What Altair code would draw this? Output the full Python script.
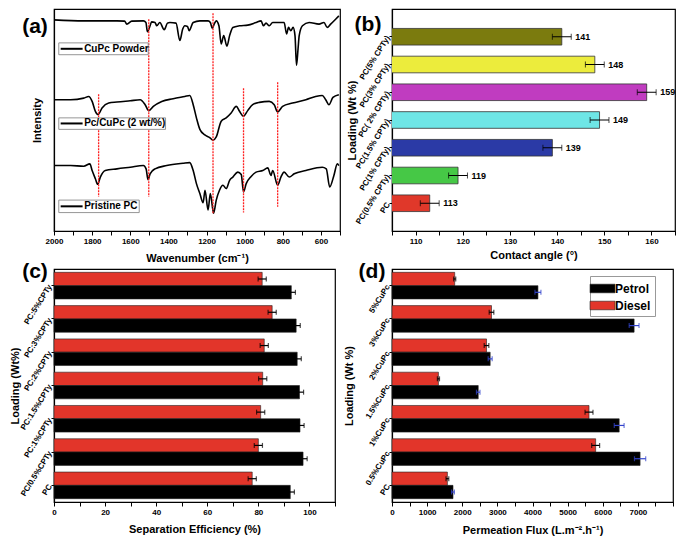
import altair as alt
import pandas as pd

FONT = "Liberation Sans"
RED = "#e2352a"
BLUE = "#3344cc"

# ---------------- (a) FTIR spectra ----------------
cupc_wn = [2000, 1844, 1670, 1630, 1618, 1592, 1531, 1518, 1510, 1496, 1488, 1470, 1461, 1445, 1422, 1405,
           1392, 1360, 1340, 1325, 1314, 1300, 1291, 1270, 1235, 1192, 1180, 1170, 1160, 1149, 1135, 1123,
           1110, 1093, 1079, 1062, 1027, 984, 940, 914, 902, 888, 871, 853, 793, 780, 770, 758, 746, 736,
           728, 720, 714, 697, 662, 610, 584, 567, 549, 523, 506]
cupc_i = [658, 655, 655, 654, 645, 654, 655, 650, 622, 640, 652, 650, 640, 650, 628, 648,
          650, 648, 595, 630, 640, 638, 625, 650, 655, 655, 650, 632, 645, 655, 640, 585,
          610, 578, 610, 635, 640, 642, 650, 655, 640, 648, 640, 650, 650, 615, 635, 625, 635, 610,
          520, 570, 610, 640, 650, 645, 650, 635, 645, 660, 670]

pccupc_wn = [2000, 1913, 1844, 1818, 1800, 1783, 1769, 1748, 1713, 1670, 1600, 1548, 1522, 1503, 1479, 1435,
             1375, 1314, 1288, 1270, 1253, 1235, 1209, 1183, 1166, 1149, 1123, 1097, 1071, 1044, 1027, 1006,
             984, 958, 923, 871, 845, 827, 801, 749, 679, 628, 593, 575, 558, 537, 506]
pccupc_i = [415, 415, 420, 425, 410, 380, 370, 390, 405, 408, 412, 415, 400, 382, 395, 410,
            418, 425, 428, 400, 360, 325, 308, 300, 292, 302, 350, 360, 375, 395, 380, 365,
            382, 400, 407, 410, 400, 378, 395, 405, 415, 425, 428, 415, 400, 422, 430]

pc_wn = [2000, 1913, 1844, 1812, 1800, 1783, 1771, 1757, 1731, 1670, 1600, 1531, 1517, 1507, 1496, 1470,
         1409, 1323, 1288, 1270, 1253, 1235, 1218, 1208, 1192, 1180, 1163, 1149, 1132, 1114, 1097, 1079,
         1062, 1036, 1018, 1006, 992, 966, 940, 905, 879, 862, 853, 827, 810, 793, 766, 740, 679, 593,
         572, 554, 532, 514, 506]
pc_i = [215, 215, 213, 220, 200, 175, 158, 180, 200, 205, 210, 215, 205, 172, 190, 205,
        215, 222, 224, 200, 160, 130, 102, 140, 80, 130, 70, 110, 140, 155, 145, 170,
        180, 195, 188, 135, 160, 182, 195, 200, 208, 185, 200, 155, 180, 195, 180, 190, 200, 210,
        205, 150, 185, 220, 215]

marker_wn = [1766, 1503, 1166, 1006, 827]
marker_top = [432, 660, 678, 450, 468]
marker_bot = [120, 120, 68, 72, 90]

leg_labels = ["CuPc Powder", "Pc/CuPc (2 wt/%)", "Pristine PC"]
leg_box_left = [1975, 1975, 1975]
leg_box_right = [1506, 1415, 1553]
leg_box_top = [588, 360, 110]
leg_box_bot = [552, 325, 72]
leg_mid = [570, 343, 91]
leg_seg_left = [1965, 1965, 1965]
leg_seg_right = [1850, 1850, 1850]
leg_text_x = [1842, 1842, 1842]

# ---------------- (b) contact angle ----------------
b_cats = ["PC(5% CPTy)", "PC(3% CPTy)", "PC( 2% CPTy)", "PC(1.5% CPTy)", "PC(1% CPTy)", "PC(0.5% CPTy)", "PC"]
b_vals = [141, 148, 159, 149, 139, 119, 113]
b_err = [2, 2, 2, 2, 2, 2, 2]
b_colors = ["#7b7b0e", "#ecec3c", "#c03cc0", "#6ee6e6", "#2b3aa6", "#46c846", "#e0382a"]

# ---------------- (c) separation efficiency ----------------
c_cats = ["PC:5%CPTy", "PC:3%CPTy", "PC:2%CPTy", "PC:1.5%CPTy", "PC:1%CPTy", "PC/0.5%CPTy", "PC"]
c_diesel = [81.5, 85.4, 82.3, 81.7, 80.9, 80.0, 77.6]
c_diesel_err = [1.6, 1.6, 1.6, 1.6, 1.6, 1.6, 1.6]
c_petrol = [92.9, 94.8, 95.2, 96.1, 96.3, 97.5, 92.5]
c_petrol_err = [1.6, 1.6, 1.6, 1.6, 1.6, 1.6, 1.6]

# ---------------- (d) permeation flux ----------------
d_cats = ["5%CuPc", "3%CuPc", "2%CuPc", "1.5%CuPc", "1%CuPc", "0.5%CuPc", "PC"]
d_petrol = [4155, 6893, 2795, 2455, 6468, 7063, 1737]
d_petrol_err = [85, 140, 57, 50, 140, 160, 40]
d_diesel = [1785, 2833, 2691, 1322, 5609, 5798, 1577]
d_diesel_err = [30, 66, 66, 30, 113, 113, 40]

series_order = ["Diesel", "Petrol"]


def panel_label(txt, dx, dy):
    return alt.Chart(pd.DataFrame({"t": [txt]})).mark_text(
        font=FONT, fontSize=21, fontWeight="bold", align="center", baseline="middle", color="black"
    ).encode(text="t:N", x=alt.value(dx), y=alt.value(dy))


# ---- panel (a)
a_lines = pd.concat([
    pd.DataFrame({"wn": cupc_wn, "I": cupc_i, "s": "CuPc Powder"}),
    pd.DataFrame({"wn": pccupc_wn, "I": pccupc_i, "s": "Pc/CuPc"}),
    pd.DataFrame({"wn": pc_wn, "I": pc_i, "s": "Pristine PC"}),
])
a_mark = pd.DataFrame({"wn": marker_wn, "I": marker_top, "I2": marker_bot})
a_leg = pd.DataFrame({"lab": leg_labels, "wn": leg_box_left, "wn2": leg_box_right, "I": leg_box_top,
                      "I2": leg_box_bot, "mid": leg_mid, "s1": leg_seg_left, "s2": leg_seg_right,
                      "tx": leg_text_x})

xsa = alt.Scale(domain=[500, 2000], reverse=True, nice=False, zero=False)
ysa = alt.Scale(domain=[16, 691], nice=False, zero=False)

a_x_axis = alt.Axis(values=list(range(500, 2001, 100)),
                    labelExpr="datum.value % 200 == 0 && datum.value > 500 ? '' + datum.value : ''",
                    title="Wavenumber (cm⁻¹)", titlePadding=7, labelFlush=False, labelOverlap=False)
a_y_axis = alt.Axis(title="Intensity", labels=False, ticks=False, minExtent=0, maxExtent=0, titlePadding=12)


def XA(field):
    return alt.X(field, scale=xsa, axis=a_x_axis)


def YA(field):
    return alt.Y(field, scale=ysa, axis=a_y_axis)


lines_a = alt.Chart(a_lines).mark_line(color="black", strokeWidth=1.6, interpolate="monotone").encode(
    x=XA("wn:Q"), y=YA("I:Q"), detail="s:N",
)
rules_a = alt.Chart(a_mark).mark_rule(color="#ff1f1f", strokeDash=[2, 1], strokeWidth=1.3).encode(
    x=XA("wn:Q"), y=YA("I:Q"), y2="I2:Q",
)
box_a = alt.Chart(a_leg).mark_rect(fill="white", stroke="#8a8a8a", strokeWidth=0.9).encode(
    x=XA("wn:Q"), x2="wn2:Q", y=YA("I:Q"), y2="I2:Q",
)
seg_a = alt.Chart(a_leg).mark_rule(color="black", strokeWidth=2).encode(
    x=XA("s1:Q"), x2="s2:Q", y=YA("mid:Q"),
)
txt_a = alt.Chart(a_leg).mark_text(font=FONT, fontSize=10, fontWeight="bold", align="left",
                                   baseline="middle", color="black").encode(
    x=XA("tx:Q"), y=YA("mid:Q"), text="lab:N",
)
pa = alt.layer(lines_a, rules_a, box_a, seg_a, txt_a, panel_label("(a)", -19, 18)).properties(width=286, height=222)

# ---- panel (b)
b_df = pd.DataFrame({"cat": b_cats, "val": b_vals, "err": b_err})
b_df["lo"] = b_df["val"] - b_df["err"]
b_df["hi"] = b_df["val"] + b_df["err"]

xsb = alt.Scale(domain=[105, 165], nice=False, zero=False)
ysb = alt.Scale(paddingInner=0.4, paddingOuter=0.7)
b_x_axis = alt.Axis(values=list(range(105, 166, 5)),
                    labelExpr="datum.value % 10 == 0 && datum.value < 165 ? '' + datum.value : ''",
                    title="Contact angle (°)", titlePadding=4, labelFlush=False, labelOverlap=False)
b_y_axis = alt.Axis(title="Loading (Wt %)", labelAngle=-58, labelAlign="right", labelBaseline="middle",
                    tickSize=3, labelPadding=1, minExtent=33, maxExtent=33, titlePadding=2)


def XB(field):
    return alt.X(field, scale=xsb, axis=b_x_axis)


def YB():
    return alt.Y("cat:N", sort=b_cats, scale=ysb, axis=b_y_axis)


bars_b = alt.Chart(b_df).mark_bar(stroke="#333333", strokeWidth=0.8, clip=True).encode(
    x=XB("val:Q"), y=YB(),
    fill=alt.Fill("cat:N", scale=alt.Scale(domain=b_cats, range=b_colors), legend=None),
)
err_b = alt.Chart(b_df).mark_rule(color="black", strokeWidth=1).encode(x=XB("lo:Q"), x2="hi:Q", y=YB())
caplo_b = alt.Chart(b_df).mark_tick(color="black", size=6, thickness=1).encode(x=XB("lo:Q"), y=YB())
caphi_b = alt.Chart(b_df).mark_tick(color="black", size=6, thickness=1).encode(x=XB("hi:Q"), y=YB())
txt_b = alt.Chart(b_df).mark_text(font=FONT, fontSize=9, fontWeight="bold", align="left", dx=4,
                                  baseline="middle", color="black").encode(
    x=XB("hi:Q"), y=YB(), text="val:Q",
)
pb = alt.layer(bars_b, err_b, caplo_b, caphi_b, txt_b, panel_label("(b)", -24, 16)).properties(width=283, height=222)


# ---- panels (c) and (d): grouped bars
def long_df(cats, diesel, diesel_err, petrol, petrol_err):
    df = pd.concat([
        pd.DataFrame({"cat": cats, "series": "Diesel", "val": diesel, "err": diesel_err}),
        pd.DataFrame({"cat": cats, "series": "Petrol", "val": petrol, "err": petrol_err}),
    ])
    df["lo"] = df["val"] - df["err"]
    df["hi"] = df["val"] + df["err"]
    return df


def grouped_panel(df, cats, xscale, x_axis, y_axis, legend, err_colors, label, lab_dx, width, height):
    ys = alt.Scale(paddingInner=0.2, paddingOuter=0.1)
    yo = alt.YOffset("series:N", sort=series_order, scale=alt.Scale(paddingInner=0, paddingOuter=0))

    def X(field):
        return alt.X(field, scale=xscale, axis=x_axis)

    def Y():
        return alt.Y("cat:N", sort=cats, scale=ys, axis=y_axis)

    ecol = alt.condition("datum.series == 'Petrol'", alt.value(err_colors[0]), alt.value(err_colors[1]))
    bars = alt.Chart(df).mark_bar(stroke="#222222", strokeWidth=0.6).encode(
        x=X("val:Q"), y=Y(), yOffset=yo,
        fill=alt.Fill("series:N", scale=alt.Scale(domain=["Petrol", "Diesel"], range=["black", RED]),
                      legend=legend),
    )
    err = alt.Chart(df).mark_rule(strokeWidth=1.2).encode(
        x=X("lo:Q"), x2="hi:Q", y=Y(), yOffset=yo, color=ecol)
    c1 = alt.Chart(df).mark_tick(size=5, thickness=1.2).encode(
        x=X("lo:Q"), y=Y(), yOffset=yo, color=ecol)
    c2 = alt.Chart(df).mark_tick(size=5, thickness=1.2).encode(
        x=X("hi:Q"), y=Y(), yOffset=yo, color=ecol)
    return alt.layer(bars, err, c1, c2, panel_label(label, lab_dx, 3)).properties(width=width, height=height)


c_df = long_df(c_cats, c_diesel, c_diesel_err, c_petrol, c_petrol_err)
xsc = alt.Scale(domain=[0, 110], nice=False, zero=True)
c_x_axis = alt.Axis(values=list(range(0, 111, 10)),
                    labelExpr="datum.value % 20 == 0 ? '' + datum.value : ''",
                    title="Separation Efficiency (%)", titlePadding=7, labelFlush=False, labelOverlap=False)
c_y_axis = alt.Axis(title="Loading (Wt%)", labelAngle=-58, labelAlign="right", labelBaseline="middle",
                    tickSize=3, labelPadding=1, minExtent=33, maxExtent=33, titlePadding=1)
pc = grouped_panel(c_df, c_cats, xsc, c_x_axis, c_y_axis, None, ["black", "black"], "(c)", -19, 281, 233)

d_df = long_df(d_cats, d_diesel, d_diesel_err, d_petrol, d_petrol_err)
xsd = alt.Scale(domain=[0, 8000], nice=False, zero=True)
d_x_axis = alt.Axis(values=list(range(0, 8001, 500)),
                    labelExpr="datum.value % 1000 == 0 && datum.value < 8000 ? '' + datum.value : ''",
                    title="Permeation Flux (L.m⁻².h⁻¹)", titlePadding=8, labelFlush=False, labelOverlap=False)
d_y_axis = alt.Axis(title="Loading (Wt %)", labelAngle=-58, labelAlign="right", labelBaseline="middle",
                    tickSize=3, labelPadding=1, minExtent=35, maxExtent=35, titlePadding=3)
d_legend = alt.Legend(title=None, orient="none", legendX=198, legendY=7,
                      symbolType="M-1.6,-0.55H1.6V0.55H-1.6Z", symbolSize=243,
                      symbolStrokeColor="#222222", symbolStrokeWidth=0.6,
                      labelFont=FONT, labelFontSize=12, labelFontWeight="bold", labelColor="black",
                      fillColor="white", strokeColor="#999999", padding=4, rowPadding=2, labelOffset=4)
pdd = grouped_panel(d_df, d_cats, xsd, d_x_axis, d_y_axis, d_legend, [BLUE, "black"], "(d)", -20, 281, 233)

chart = alt.concat(pa, pb, pc, pdd, columns=2).properties(
    spacing={"row": 38, "column": 52}, bounds="flush", padding=0
).resolve_scale(
    fill="independent", color="independent"
).configure(font=FONT, background="white").configure_view(
    stroke="black", strokeWidth=1.2
).configure_axis(
    labelFont=FONT, labelFontWeight="bold", labelFontSize=8, labelColor="black",
    titleFont=FONT, titleFontWeight="bold", titleFontSize=11, titleColor="black",
    domainColor="black", domainWidth=1.2, tickColor="black", tickWidth=1, tickSize=4,
    labelPadding=2, grid=False,
)

chart.save("out.html", embed_options={"renderer": "svg", "actions": False})
